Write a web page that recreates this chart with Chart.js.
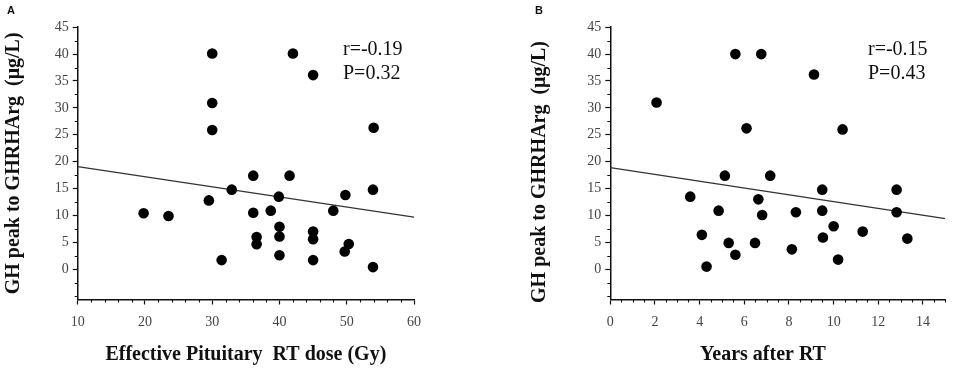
<!DOCTYPE html>
<html>
<head>
<meta charset="utf-8">
<script src="https://cdn.jsdelivr.net/npm/chart.js@4/dist/chart.umd.min.js"></script>
<style>
  html, body { margin: 0; padding: 0; background: #fff; }
  #wrap { position: relative; width: 957px; height: 374px; }
  #cA { position: absolute; left: 0; top: 0; }
  #cB { position: absolute; left: 478px; top: 0; }
</style>
</head>
<body>
<div id="wrap">
  <canvas id="cA" width="478" height="374"></canvas>
  <canvas id="cB" width="479" height="374"></canvas>
</div>
<script>
// ---------- Panel A data: Effective pituitary RT dose vs GH peak ----------
const doseX = [30, 42, 45, 30, 30, 54, 36.1, 41.5, 32.9, 29.5, 39.9, 49.8, 53.9, 19.8, 23.5,
               36.1, 38.7, 48, 40, 40, 36.6, 36.6, 45, 45, 50.3, 49.7, 40, 45, 31.4, 53.9];
const doseY = [40.1, 40.1, 36.1, 30.9, 25.9, 26.3, 17.4, 17.4, 14.8, 12.8, 13.5, 13.8, 14.8, 10.4, 9.9,
               10.5, 10.9, 10.9, 7.9, 6.1, 6.0, 4.65, 7.0, 5.6, 4.7, 3.3, 2.6, 1.7, 1.7, 0.4];
const doseFitX = [10, 60];
const doseFitY = [19.1, 9.7];
const doseTicks = [10, 20, 30, 40, 50, 60];
const doseMinor = [12, 14, 16, 18, 22, 24, 26, 28, 32, 34, 36, 38, 42, 44, 46, 48, 52, 54, 56, 58];
const statsA = ['r=-0.19', 'P=0.32'];

// ---------- Panel B data: Years after RT vs GH peak ----------
const yearsX = [2.07, 5.6, 6.76, 9.12, 6.1, 10.4, 5.13, 7.16, 3.58, 6.63, 9.49, 12.82, 4.85, 6.8,
                8.31, 9.49, 12.82, 10.0, 11.3, 4.1, 9.52, 13.3, 5.3, 6.48, 8.13, 5.6, 10.2, 4.31];
const yearsY = [31.0, 40.0, 40.0, 36.2, 26.2, 26.0, 17.4, 17.4, 13.5, 13.0, 14.8, 14.8, 10.9, 10.1,
                10.6, 10.9, 10.6, 8.0, 7.0, 6.4, 5.9, 5.7, 4.9, 4.9, 3.7, 2.7, 1.8, 0.5];
const yearsFitX = [0, 15];
const yearsFitY = [18.9, 9.4];
const yearsTicks = [0, 2, 4, 6, 8, 10, 12, 14];
const yearsMinor = [0.5, 1, 1.5, 2.5, 3, 3.5, 4.5, 5, 5.5, 6.5, 7, 7.5, 8.5, 9, 9.5, 10.5, 11, 11.5,
                    12.5, 13, 13.5, 14.5, 15];
const statsB = ['r=-0.15', 'P=0.43'];

// ---------- shared y axis ----------
const ghTicks = [0, 5, 10, 15, 20, 25, 30, 35, 40, 45];
const ghMinor = [-5, -2.5, 2.5, 7.5, 12.5, 17.5, 22.5, 27.5, 32.5, 37.5, 42.5];
const yTitle = 'GH peak to GHRHArg  (\u03bcg/L)';

Chart.defaults.font.family = "'Liberation Serif', 'Times New Roman', serif";
Chart.defaults.animation = false;

const pts = (xs, ys) => xs.map((x, i) => ({ x: x, y: ys[i] }));

const decorPlugin = {
  id: 'decor',
  afterDraw(chart) {
    const o = chart.options.plugins.decor;
    const ctx = chart.ctx;
    const xs = chart.scales.x, ys = chart.scales.y;
    ctx.save();
    // minor ticks
    ctx.strokeStyle = '#111';
    ctx.lineWidth = 1.1;
    ctx.beginPath();
    o.xMinor.forEach(v => {
      const px = Math.round(xs.getPixelForValue(v)) + 0.5;
      ctx.moveTo(px, xs.top);
      ctx.lineTo(px, xs.top + 3);
    });
    o.yMinor.forEach(v => {
      const py = Math.round(ys.getPixelForValue(v)) + 0.5;
      ctx.moveTo(ys.right, py);
      ctx.lineTo(ys.right - 3, py);
    });
    ctx.stroke();
    // statistics text
    ctx.fillStyle = '#111';
    ctx.font = "20px 'Liberation Serif', serif";
    ctx.textAlign = 'left';
    ctx.textBaseline = 'alphabetic';
    ctx.fillText(o.stats[0], o.statsX, 55);
    ctx.fillText(o.stats[1], o.statsX, 79);
    // panel letter
    ctx.font = "bold 11px 'Liberation Sans', Arial, sans-serif";
    ctx.fillText(o.letter, o.letterX, 14);
    // axis titles placed explicitly (when requested)
    if (o.titles) {
      ctx.font = "bold 20px 'Liberation Serif', serif";
      ctx.textAlign = 'center';
      ctx.textBaseline = 'middle';
      ctx.fillText(o.titles.x.text, o.titles.x.cx, o.titles.x.cy);
      ctx.translate(o.titles.y.cx, o.titles.y.cy);
      ctx.rotate(-Math.PI / 2);
      ctx.fillText(o.titles.y.text, 0, 0);
    }
    ctx.restore();
  }
};

function makeChart(id, cfg) {
  return new Chart(document.getElementById(id), {
    type: 'scatter',
    data: {
      datasets: [
        {
          type: 'scatter',
          data: pts(cfg.xs, cfg.ys),
          backgroundColor: '#000',
          borderColor: '#000',
          pointRadius: 5.3,
          pointHoverRadius: 5.3,
          borderWidth: 0
        },
        {
          type: 'line',
          data: pts(cfg.fitX, cfg.fitY),
          borderColor: '#333',
          borderWidth: 1.3,
          pointRadius: 0,
          fill: false,
          tension: 0
        }
      ]
    },
    options: {
      responsive: false,
      devicePixelRatio: 1,
      events: [],
      layout: { autoPadding: false, padding: { left: 0, right: cfg.padRight, top: 27.2, bottom: 0 } },
      plugins: {
        legend: { display: false },
        tooltip: { enabled: false },
        decor: { xMinor: cfg.xMinor, yMinor: ghMinor, stats: cfg.stats, statsX: cfg.statsX,
                 letter: cfg.letter, letterX: cfg.letterX, titles: cfg.customTitles || null }
      },
      scales: {
        x: {
          type: 'linear',
          min: cfg.xMin, max: cfg.xMax,
          afterBuildTicks: s => { s.ticks = cfg.xTicks.map(v => ({ value: v })); },
          afterFit: s => { s.height = 74.5; },
          border: { display: true, color: '#111', width: 1.5 },
          grid: { drawOnChartArea: false, drawTicks: true, tickLength: 5, tickColor: '#111', tickWidth: 1.2 },
          ticks: { font: { size: 14 }, color: '#444', padding: 9, maxRotation: 0, autoSkip: false },
          title: { display: !cfg.customTitles, text: cfg.xTitle, color: '#111',
                   font: { size: 20, weight: 'bold' }, padding: { top: 0, bottom: 7 } }
        },
        y: {
          type: 'linear',
          min: -5.62, max: 45,
          afterBuildTicks: s => { s.ticks = ghTicks.map(v => ({ value: v })); },
          afterFit: s => { s.width = cfg.yWidth; },
          border: { display: true, color: '#111', width: 1.5 },
          grid: { drawOnChartArea: false, drawTicks: true, tickLength: 5, tickColor: '#111', tickWidth: 1.2 },
          ticks: { font: { size: 14 }, color: '#444', padding: 4, autoSkip: false },
          title: { display: !cfg.customTitles, text: yTitle, color: '#111',
                   font: { size: 20, weight: 'bold' }, padding: { top: cfg.yTitlePad, bottom: 0 } }
        }
      }
    },
    plugins: [decorPlugin]
  });
}

makeChart('cA', {
  xs: doseX, ys: doseY, fitX: doseFitX, fitY: doseFitY,
  xMin: 10, xMax: 60, xTicks: doseTicks, xMinor: doseMinor,
  xTitle: 'Effective Pituitary  RT dose (Gy)',
  yWidth: 77.7, yTitlePad: 2, padRight: 64,
  stats: statsA, statsX: 343, letter: 'A', letterX: 7
});

makeChart('cB', {
  xs: yearsX, ys: yearsY, fitX: yearsFitX, fitY: yearsFitY,
  xMin: 0, xMax: 15, xTicks: yearsTicks, xMinor: yearsMinor,
  xTitle: 'Years after RT',
  yWidth: 132.3, yTitlePad: 50, padRight: 11.7,
  stats: statsB, statsX: 390, letter: 'B', letterX: 57,
  customTitles: {
    x: { text: 'Years after RT', cx: 285, cy: 355 },
    y: { text: yTitle, cx: 62, cy: 172 }
  }
});
</script>
</body>
</html>
